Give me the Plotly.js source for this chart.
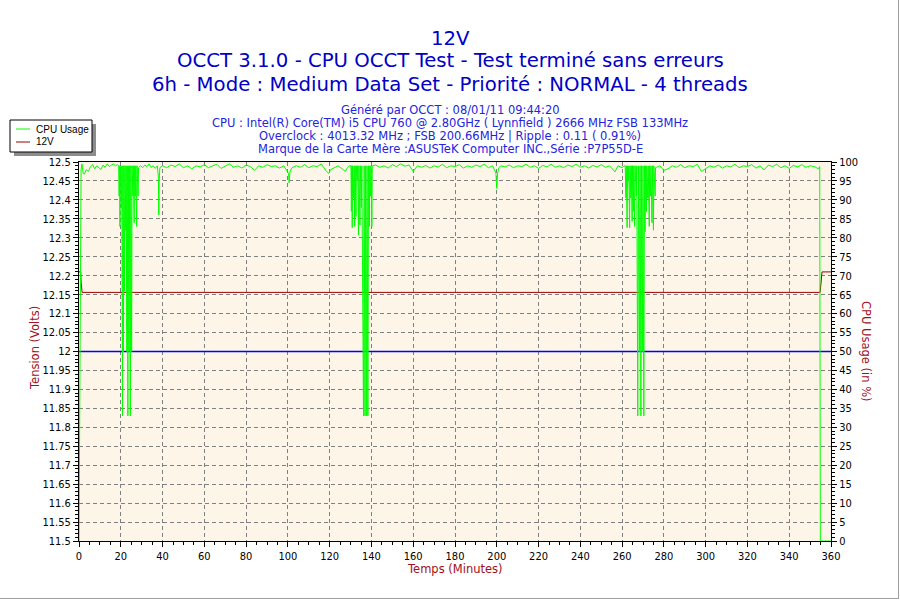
<!DOCTYPE html>
<html>
<head>
<meta charset="utf-8">
<script src="https://cdn.plot.ly/plotly-3.0.1.min.js"></script>
<style>
html,body{margin:0;padding:0;background:#fff;}
#frame{position:absolute;left:0;top:0;width:898px;height:598px;border-right:1px solid #a0a0a0;border-bottom:1px solid #a0a0a0;}
#chart{position:absolute;left:0;top:0;width:900px;height:600px;}
</style>
</head>
<body>
<div id="frame"></div>
<div id="chart"></div>
<script>
// ---------- DATA ----------
const chartTitle = "12V";
const titleLine2 = "OCCT 3.1.0 - CPU OCCT Test - Test terminé sans erreurs";
const titleLine3 = "6h - Mode : Medium Data Set - Priorité : NORMAL - 4 threads";
const infoLines = [
  "Généré par OCCT : 08/01/11 09:44:20",
  "CPU : Intel(R) Core(TM) i5 CPU 760 @ 2.80GHz ( Lynnfield ) 2666 MHz FSB 133MHz",
  "Overclock : 4013.32 MHz ; FSB 200.66MHz | Ripple : 0.11 ( 0.91%)",
  "Marque de la Carte Mère :ASUSTeK Computer INC.,Série :P7P55D-E"
];
const seriesNames = ["CPU Usage", "12V"];
const xTitle = "Temps (Minutes)";
const yTitle = "Tension (Volts)";
const y2Title = "CPU Usage (in %)";

// 12V rail (minutes, volts)
const voltTime  = [0, 0.8, 1.0, 1.5, 354.8, 355.2, 355.7, 360];
const voltValue = [12.21, 12.21, 12.183, 12.156, 12.156, 12.193, 12.21, 12.21];

// nominal reference line
const nominalTime  = [0, 360];
const nominalValue = [12, 12];

// CPU usage (minutes, %)
const cpuTime = [
  0, 0.3, 0.6, 1.0, 1.4, 2, 2.6, 3.5, 4.5, 5.5, 6.5, 7.5, 8.5, 9.5, 10.5, 11.5, 12.5, 13.5, 14.5, 15.5, 16.5, 17.5, 18.5,
  19.0, 19.2, 19.4, 19.6, 19.8, 20.3, 20.5, 20.8, 21.0, 21.3, 21.5, 21.8, 22.0, 22.4, 22.6, 22.9, 23.1, 23.4, 23.6, 23.9, 24.1, 24.6, 24.8, 25.2, 25.4, 25.8, 26.0, 26.4, 26.6, 27.0, 27.2, 27.6, 27.8, 28.3, 28.5,
  29.5, 30.5, 31.5, 32.5, 33.5, 34.5, 35.5, 36.5, 37.5, 38.0, 38.2, 38.4, 38.7,
  40, 42, 44, 46, 48, 50, 52, 54, 56, 58, 60, 62, 64, 66, 68, 70, 72, 74, 76, 78, 80, 82, 84, 86, 88, 90, 92, 94, 96, 98,
  100.3, 100.6, 101, 102, 104, 106, 108, 110, 112, 114, 116, 118.5, 119.5, 120.5, 122, 124, 126, 127.5, 128.5, 129.5,
  130.2, 130.4, 130.6, 130.8, 131.0, 131.5, 131.7, 132.0, 132.2, 132.6, 132.8, 133.2, 133.4, 133.8, 134.0, 134.5, 134.7, 135.2, 135.4, 136.2, 136.5, 136.9, 137.2, 137.6, 137.9, 138.3, 138.6, 139.0, 139.2, 139.6, 139.8, 140.2, 140.4,
  142, 144, 146, 148, 150, 152, 154, 156, 158, 160, 161, 162, 164, 166, 168, 170, 172, 174, 176, 178, 180, 182, 184, 186, 188, 190, 192, 194, 196, 198,
  199.6, 200, 200.4, 201, 202, 204, 206, 208, 210, 212, 214, 216, 218, 220, 222, 224, 226, 228, 230, 232, 234, 236, 238, 240, 242, 244, 246, 248, 250, 252, 254, 256.6, 258, 260, 261,
  261.5, 261.8, 262.0, 262.4, 262.6, 263.0, 263.2, 263.6, 263.8, 264.2, 264.4, 264.8, 265.0, 265.4, 265.6, 266.0, 266.2, 266.8, 267.0, 267.5, 267.8, 268.3, 268.6, 269.0, 269.3, 269.7, 270.0, 270.4, 270.7, 271.0, 271.2, 271.6, 271.8, 272.3, 272.5, 273.0, 273.2, 273.6, 273.8, 274.3, 274.5, 275.0, 275.2, 275.8, 276,
  278, 280, 282, 284, 286, 288, 290, 292, 294, 296, 298, 300, 302, 304, 306, 308, 310, 312, 314, 316, 318, 320, 322, 324, 326, 328, 330, 332, 334, 336, 338, 340, 342, 344, 346, 348, 350, 352, 354, 354.6, 354.7, 354.9, 360
];
const cpuValue = [
  0, 25, 75, 98, 99.5, 97, 96.8, 98, 97.5, 98.8, 99.3, 98.2, 99, 98.5, 98, 99.2, 98.6, 99.5, 98.8, 99.2, 99.5, 99, 99.3,
  99, 91, 99, 83, 99, 88, 99, 33, 99, 50, 99, 66, 99, 82, 99, 50, 99, 33, 99, 50, 99, 33, 99, 50, 99, 91, 99, 84, 99, 91, 99, 83, 99, 91, 98.5,
  99, 98.5, 99.2, 98.8, 99.5, 98.6, 99, 98.3, 99, 96, 86, 95, 98.5,
  99, 98.5, 99.2, 98.8, 99.5, 98.5, 99, 98.2, 99, 98.7, 99.3, 98.5, 99, 99.4, 98.3, 98.9, 99.5, 98.6, 99, 98.4, 99.2, 98.8, 97.8, 99, 98.6, 99.3, 98.8, 99, 98.4, 99,
  97, 94.5, 97.5, 98.5, 99, 98.6, 99.3, 98.5, 99, 98.8, 99.5, 97.5, 97, 98, 98.4, 99, 98.2, 97.5, 98.5, 99,
  99, 87, 99, 82.7, 99, 90.5, 99, 83, 99, 85.6, 99, 95, 99, 80.7, 99, 83.4, 99, 88, 99, 33, 99, 33, 99, 33, 99, 33, 99, 83, 99, 91, 99, 83, 99,
  99.2, 98.6, 99, 98.4, 99.3, 98.8, 99.5, 98.9, 99.2, 97.5, 98.2, 99, 98.6, 99.1, 98.4, 99, 98.7, 99.4, 98.5, 99, 98.8, 99.3, 98.4, 99, 98.6, 99.2, 98.8, 99.4, 98.5, 99,
  97, 93, 97, 98.5, 99, 98.7, 99.2, 98.5, 99, 98.8, 99.4, 98.6, 99, 98.3, 99.1, 98.7, 99.4, 98.6, 99, 98.5, 99.2, 98.8, 99.4, 98.6, 99, 98.4, 99.1, 98.7, 99.3, 98.6, 99, 97.4, 99, 98.5, 99,
  99, 90.5, 99, 82.7, 99, 95, 99, 82.6, 99, 90.5, 99, 84.3, 99, 87, 99, 83, 99, 91, 99, 33, 99, 50, 99, 33, 99, 50, 99, 33, 99, 81.6, 99, 86.9, 99, 90.5, 99, 83, 99, 91, 99, 84, 99, 82, 99, 91, 98.5,
  99, 97.8, 98.2, 99, 98.6, 99.3, 98.5, 99, 98.8, 99.4, 97.5, 98.2, 99, 98.6, 99.2, 98.4, 99, 98.7, 99.4, 98.5, 99, 98.8, 99.3, 98.4, 99, 97.9, 99.2, 98.8, 99.4, 98.5, 99, 98.3, 99.1, 98.7, 99.3, 98.6, 99, 98.8, 98.2, 98.8, 50, 0, 0
];

// ---------- STYLE / LAYOUT ----------
const L = 79, R = 831, T = 162, B = 541;
const px = x => (x - L) / (R - L);
const py = y => (B - y) / (B - T);

const tickFont = {family: "DejaVu Sans Condensed, DejaVu Sans, sans-serif", size: 11, color: "#000"};
const titleFamily = "DejaVu Sans, Verdana, sans-serif";
const titleBlue = "#0000c8";
const infoBlue = "#2424e0";
const axisRed = "#a01020";

const traces = [
  {x: nominalTime, y: nominalValue, type: "scatter", mode: "lines", line: {color: "#0000ff", width: 1.5}, hoverinfo: "skip", showlegend: false},
  {x: voltTime, y: voltValue, type: "scatter", mode: "lines", name: seriesNames[1], line: {color: "#990000", width: 1}, showlegend: false},
  {x: cpuTime, y: cpuValue, type: "scatter", mode: "lines", name: seriesNames[0], yaxis: "y2", line: {color: "#00ff00", width: 1}, showlegend: false}
];

const gridDash = "4px,3px";
const annotations = [];
function addText(text, x, y, size, color, opts) {
  annotations.push(Object.assign({
    text: text, xref: "paper", yref: "paper", x: px(x), y: py(y),
    xanchor: "center", yanchor: "middle", showarrow: false,
    font: {family: titleFamily, size: size, color: color}
  }, opts || {}));
}
addText(chartTitle, 450, 38, 19.7, titleBlue);
addText(titleLine2, 450, 61, 19.7, titleBlue);
addText(titleLine3, 450, 84, 19.7, titleBlue);
infoLines.forEach((t, i) => addText(t, 450, 110 + i * 13, 11.5, infoBlue));
addText(xTitle, 455, 569, 11.5, axisRed);
addText(yTitle, 35, 348, 11.5, axisRed, {textangle: -90});
addText(y2Title, 866, 351, 11.5, axisRed, {textangle: 90});
// legend texts
const legFont = {family: "Liberation Sans, Arial, sans-serif", size: 10, color: "#000"};
addText(seriesNames[0], 34, 129, 10, "#000", {xanchor: "left", font: legFont});
addText(seriesNames[1], 34, 142, 10, "#000", {xanchor: "left", font: legFont});

const shapes = [
  {type: "rect", xref: "paper", yref: "paper", x0: px(14), x1: px(96), y0: py(124), y1: py(156), fillcolor: "#8c8c8c", line: {width: 0}},
  {type: "rect", xref: "paper", yref: "paper", x0: px(10), x1: px(92), y0: py(120), y1: py(152), fillcolor: "#ffffff", line: {color: "#000", width: 1}},
  {type: "line", xref: "paper", yref: "paper", x0: px(16), x1: px(30), y0: py(129), y1: py(129), line: {color: "#00ff00", width: 1}},
  {type: "line", xref: "paper", yref: "paper", x0: px(16), x1: px(30), y0: py(142), y1: py(142), line: {color: "#990000", width: 1}}
];

const layout = {
  width: 900, height: 600,
  margin: {l: L, r: 900 - R, t: T, b: 600 - B, pad: 0},
  paper_bgcolor: "rgba(0,0,0,0)",
  plot_bgcolor: "#fdf6e8",
  showlegend: false,
  xaxis: {
    range: [0, 360], dtick: 20, tick0: 0, ticks: "outside", ticklen: 5, tickcolor: "#000",
    showline: true, linecolor: "#000", linewidth: 1, mirror: true,
    showgrid: true, gridcolor: "#808080", griddash: gridDash, gridwidth: 1, zeroline: false,
    tickfont: tickFont,
    minor: {dtick: 5, ticks: "outside", ticklen: 3, tickcolor: "#000", showgrid: false}
  },
  yaxis: {
    range: [11.5, 12.5], dtick: 0.05, tick0: 11.5, ticks: "outside", ticklen: 5, tickcolor: "#000",
    showline: true, linecolor: "#000", linewidth: 1,
    showgrid: true, gridcolor: "#808080", griddash: gridDash, gridwidth: 1, zeroline: false,
    tickfont: tickFont,
    minor: {dtick: 0.01, ticks: "outside", ticklen: 3, tickcolor: "#000", showgrid: false}
  },
  yaxis2: {
    range: [0, 100], dtick: 5, tick0: 0, overlaying: "y", side: "right",
    ticks: "outside", ticklen: 5, tickcolor: "#000",
    showline: true, linecolor: "#000", linewidth: 1,
    showgrid: false, zeroline: false, tickfont: tickFont,
    minor: {dtick: 1, ticks: "outside", ticklen: 3, tickcolor: "#000", showgrid: false}
  },
  annotations: annotations,
  shapes: shapes
};

Plotly.newPlot("chart", traces, layout, {staticPlot: true, displayModeBar: false});
</script>
</body>
</html>
